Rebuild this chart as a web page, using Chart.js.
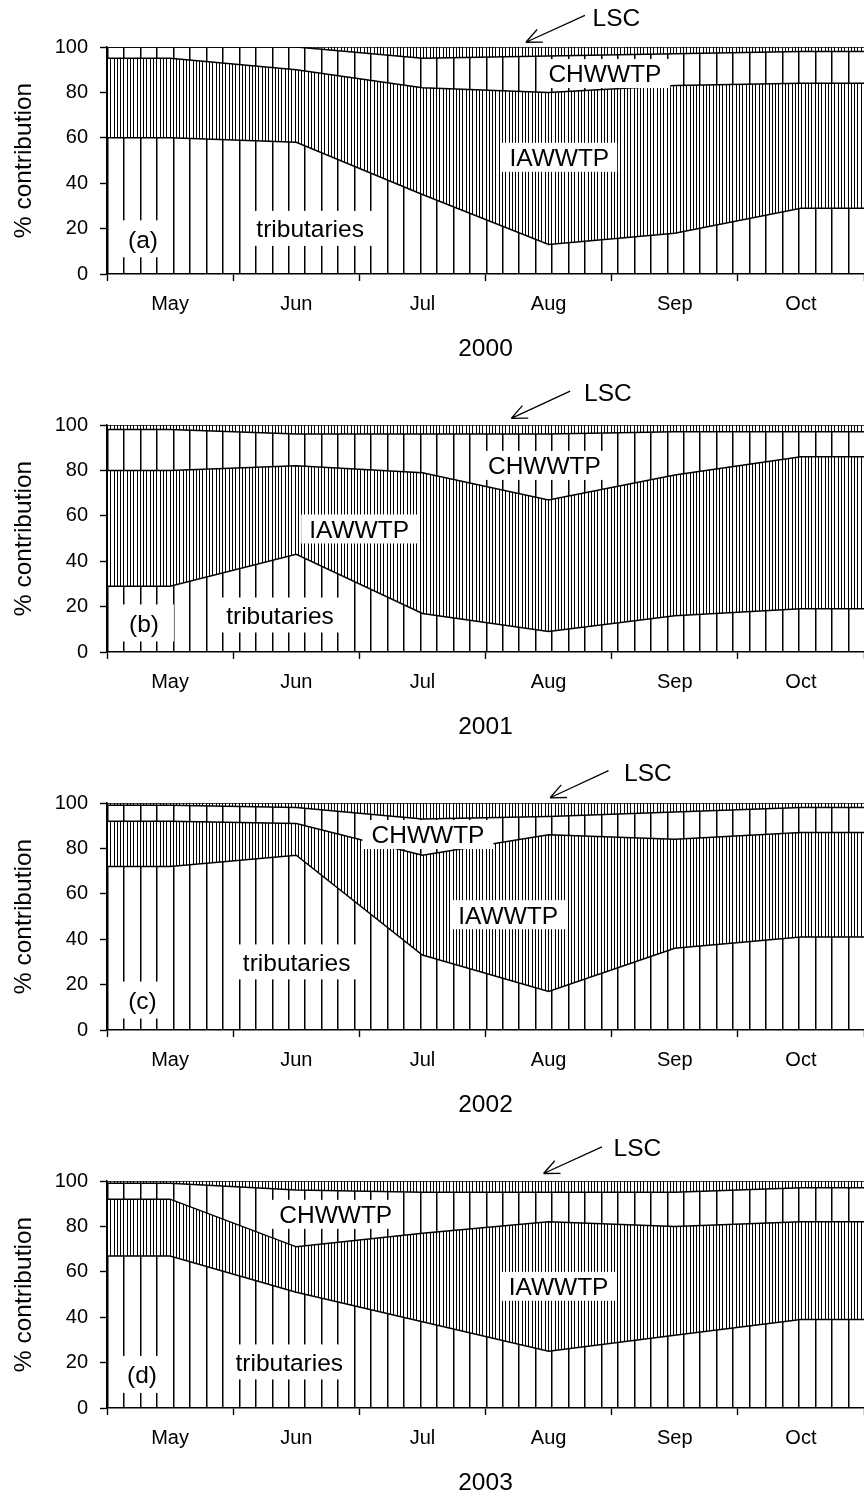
<!DOCTYPE html>
<html>
<head>
<meta charset="utf-8">
<script src="https://cdn.jsdelivr.net/npm/chart.js@4.4.0/dist/chart.umd.min.js"></script>
<style>
  html, body { margin: 0; padding: 0; background: #fff; }
  body { width: 864px; height: 1496px; overflow: hidden; position: relative; }
  canvas { position: absolute; left: 0; }
</style>
</head>
<body>
<canvas id="c0" width="864" height="378" style="top:0px"></canvas>
<canvas id="c1" width="864" height="378" style="top:378px"></canvas>
<canvas id="c2" width="864" height="378" style="top:756px"></canvas>
<canvas id="c3" width="864" height="378" style="top:1134px"></canvas>
<script>
const months = ['May', 'Jun', 'Jul', 'Aug', 'Sep', 'Oct'];
const years = ['2000', '2001', '2002', '2003'];
const tags = ['(a)', '(b)', '(c)', '(d)'];
const yTicks = [0, 20, 40, 60, 80, 100];

// % contribution per source, one value per month (May..Oct)
const trib2000 = [60, 58, 35, 13, 18, 29];
const iaw2000  = [35, 32, 47, 67, 65, 55];
const chw2000  = [5, 10, 13, 16, 14, 14];
const lsc2000  = [0, 0, 5, 4, 3, 2];

const trib2001 = [29, 43, 17, 9, 16, 19];
const iaw2001  = [51, 39, 62, 58, 62, 67];
const chw2001  = [18, 14, 17, 29, 19, 11];
const lsc2001  = [2, 4, 4, 4, 3, 3];

const trib2002 = [72, 77, 33, 17, 36, 41];
const iaw2002  = [20, 14, 44, 69, 48, 46];
const chw2002  = [7, 7, 16, 8, 12, 11];
const lsc2002  = [1, 2, 7, 6, 4, 2];

const trib2003 = [67, 51, 38, 25, 32, 39];
const iaw2003  = [25, 20, 39, 57, 48, 43];
const chw2003  = [7, 25, 18, 13, 15, 15];
const lsc2003  = [1, 4, 5, 5, 5, 3];

const FONT = "'Liberation Sans', Arial, Helvetica, sans-serif";
Chart.defaults.font.family = FONT;
Chart.defaults.color = '#000';

// text labels inside each panel: [text, x (months), y (%), padX, boxH]
const notes = [
  [[tags[0], 0.285, 15.5, 15, 37], ['tributaries', 1.61, 20.1, 10, 35], ['IAWWTP', 3.585, 51.4, 8, 29], ['CHWWTP', 3.946, 88.3, 9, 29]],
  [[tags[1], 0.293, 12.8, 15, 37], ['tributaries', 1.371, 16.3, 10, 35], ['IAWWTP', 1.998, 54.2, 8, 29], ['CHWWTP', 3.467, 82.2, 9, 29]],
  [[tags[2], 0.281, 13.2, 15, 37], ['tributaries', 1.503, 30.0, 10, 35], ['IAWWTP', 3.18, 50.8, 8, 29], ['CHWWTP', 2.544, 86.1, 9, 29]],
  [[tags[3], 0.277, 14.8, 15, 37], ['tributaries', 1.445, 20.3, 10, 35], ['IAWWTP', 3.579, 53.6, 8, 29], ['CHWWTP', 1.813, 85.3, 9, 29]]
];
// LSC label: text x, y, arrow tail x, y, arrow tip x, y
const lscNotes = [
  [4.037, 113.2, 3.788, 113.9, 3.32, 102.1],
  [3.97, 114.3, 3.671, 114.9, 3.204, 102.9],
  [4.287, 113.7, 3.975, 114.3, 3.512, 102.3],
  [4.204, 114.7, 3.923, 115.0, 3.46, 103.3]
];

function series(vals) {
  const pts = vals.map((v, i) => ({x: i + 0.5, y: v}));
  pts.unshift({x: 0, y: vals[0]});
  pts.push({x: months.length, y: vals[vals.length - 1]});
  return pts;
}

// vertical-line hatch anchored to the plot's left edge
function hatchFor(chart, dense) {
  const area = chart.chartArea;
  if (!area) return 'rgba(0,0,0,0)';
  chart.$hatch = chart.$hatch || {};
  const key = dense ? 'd' : 's';
  if (chart.$hatch[key]) return chart.$hatch[key];
  const c = document.createElement('canvas');
  c.width = chart.width; c.height = 8;
  const g = c.getContext('2d');
  g.fillStyle = '#000';
  const step = (area.right - area.left) / 46 / (dense ? 5 : 1);
  for (let px = area.left; px <= area.right + 1; px += step) {
    g.fillRect(Math.round(px), 0, dense ? 1 : 1.5, 8);
  }
  chart.$hatch[key] = chart.ctx.createPattern(c, 'repeat');
  return chart.$hatch[key];
}

function notesPlugin(idx) {
  return {
    id: 'notes' + idx,
    afterDraw(chart) {
      const {ctx, scales: {x, y}} = chart;
      const size = 24.5;
      ctx.save();
      ctx.font = size + 'px ' + FONT;
      ctx.textAlign = 'center';
      ctx.textBaseline = 'alphabetic';
      notes[idx].forEach(([text, vx, vy, padX, boxH]) => {
        const px = x.getPixelForValue(vx), py = y.getPixelForValue(vy);
        const w = ctx.measureText(text).width + 2 * padX;
        ctx.fillStyle = '#fff';
        ctx.fillRect(px - w / 2, py - boxH / 2, w, boxH);
        ctx.fillStyle = '#000';
        ctx.fillText(text, px, py + 0.36 * size);
      });
      const [tx, ty, ax, ay, bx, by] = lscNotes[idx];
      ctx.fillText('LSC', x.getPixelForValue(tx), y.getPixelForValue(ty) + 0.36 * size);
      const x1 = x.getPixelForValue(ax), y1 = y.getPixelForValue(ay);
      const x2 = x.getPixelForValue(bx), y2 = y.getPixelForValue(by);
      const ang = Math.atan2(y2 - y1, x2 - x1);
      ctx.strokeStyle = '#000';
      ctx.lineWidth = 1.3;
      ctx.beginPath();
      ctx.moveTo(x1, y1); ctx.lineTo(x2, y2);
      [0.42, -0.42].forEach(d => {
        ctx.moveTo(x2, y2);
        ctx.lineTo(x2 - 17 * Math.cos(ang + d), y2 - 17 * Math.sin(ang + d));
      });
      ctx.stroke();
      ctx.restore();
    }
  };
}

function makeChart(idx, sets) {
  const ctx = document.getElementById('c' + idx).getContext('2d');
  const names = ['tributaries', 'IAWWTP', 'CHWWTP', 'LSC'];
  const datasets = sets.map((vals, i) => ({
    label: names[i],
    data: series(vals),
    fill: i === 0 ? 'origin' : '-1',
    backgroundColor: (c) => hatchFor(c.chart, i % 2 === 1),
    borderColor: '#000',
    borderWidth: 1.5,
    pointRadius: 0,
    tension: 0
  }));
  return new Chart(ctx, {
    type: 'line',
    data: {datasets},
    options: {
      responsive: false,
      animation: false,
      events: [],
      layout: {padding: {top: 47, left: 0, right: 0, bottom: 0}},
      plugins: {legend: {display: false}, tooltip: {enabled: false}},
      scales: {
        x: {
          type: 'linear',
          min: 0,
          max: months.length,
          afterFit(s) { s.height = 104; s.paddingLeft = 0; s.paddingRight = 0; },
          afterBuildTicks(s) {
            s.ticks = [];
            for (let v = 0; v <= months.length; v += 0.5) s.ticks.push({value: v});
          },
          ticks: {
            autoSkip: false,
            maxRotation: 0,
            padding: 11,
            font: {size: 20},
            callback: (v) => Number.isInteger(v) ? '' : months[Math.floor(v)]
          },
          grid: {
            drawOnChartArea: false,
            tickLength: 7,
            tickWidth: 1.4,
            tickColor: (c) => (c.tick && Number.isInteger(c.tick.value)) ? '#000' : 'rgba(0,0,0,0)'
          },
          border: {color: '#000', width: 1.5},
          title: {display: true, text: years[idx], font: {size: 24.5}, padding: {top: 0, bottom: 14}}
        },
        y: {
          stacked: true,
          min: yTicks[0],
          max: yTicks[yTicks.length - 1],
          afterFit(s) { s.width = 107; s.paddingTop = 0; s.paddingBottom = 0; },
          afterBuildTicks(s) { s.ticks = yTicks.map(v => ({value: v})); },
          ticks: {padding: 12, font: {size: 20}},
          grid: {drawOnChartArea: false, tickLength: 7, tickWidth: 1.4, tickColor: '#000'},
          border: {color: '#000', width: 1.5},
          title: {display: true, text: '% contribution', font: {size: 24.5}, padding: {top: 10, bottom: 0}}
        }
      }
    },
    plugins: [notesPlugin(idx)]
  });
}

makeChart(0, [trib2000, iaw2000, chw2000, lsc2000]);
makeChart(1, [trib2001, iaw2001, chw2001, lsc2001]);
makeChart(2, [trib2002, iaw2002, chw2002, lsc2002]);
makeChart(3, [trib2003, iaw2003, chw2003, lsc2003]);
</script>
</body>
</html>
